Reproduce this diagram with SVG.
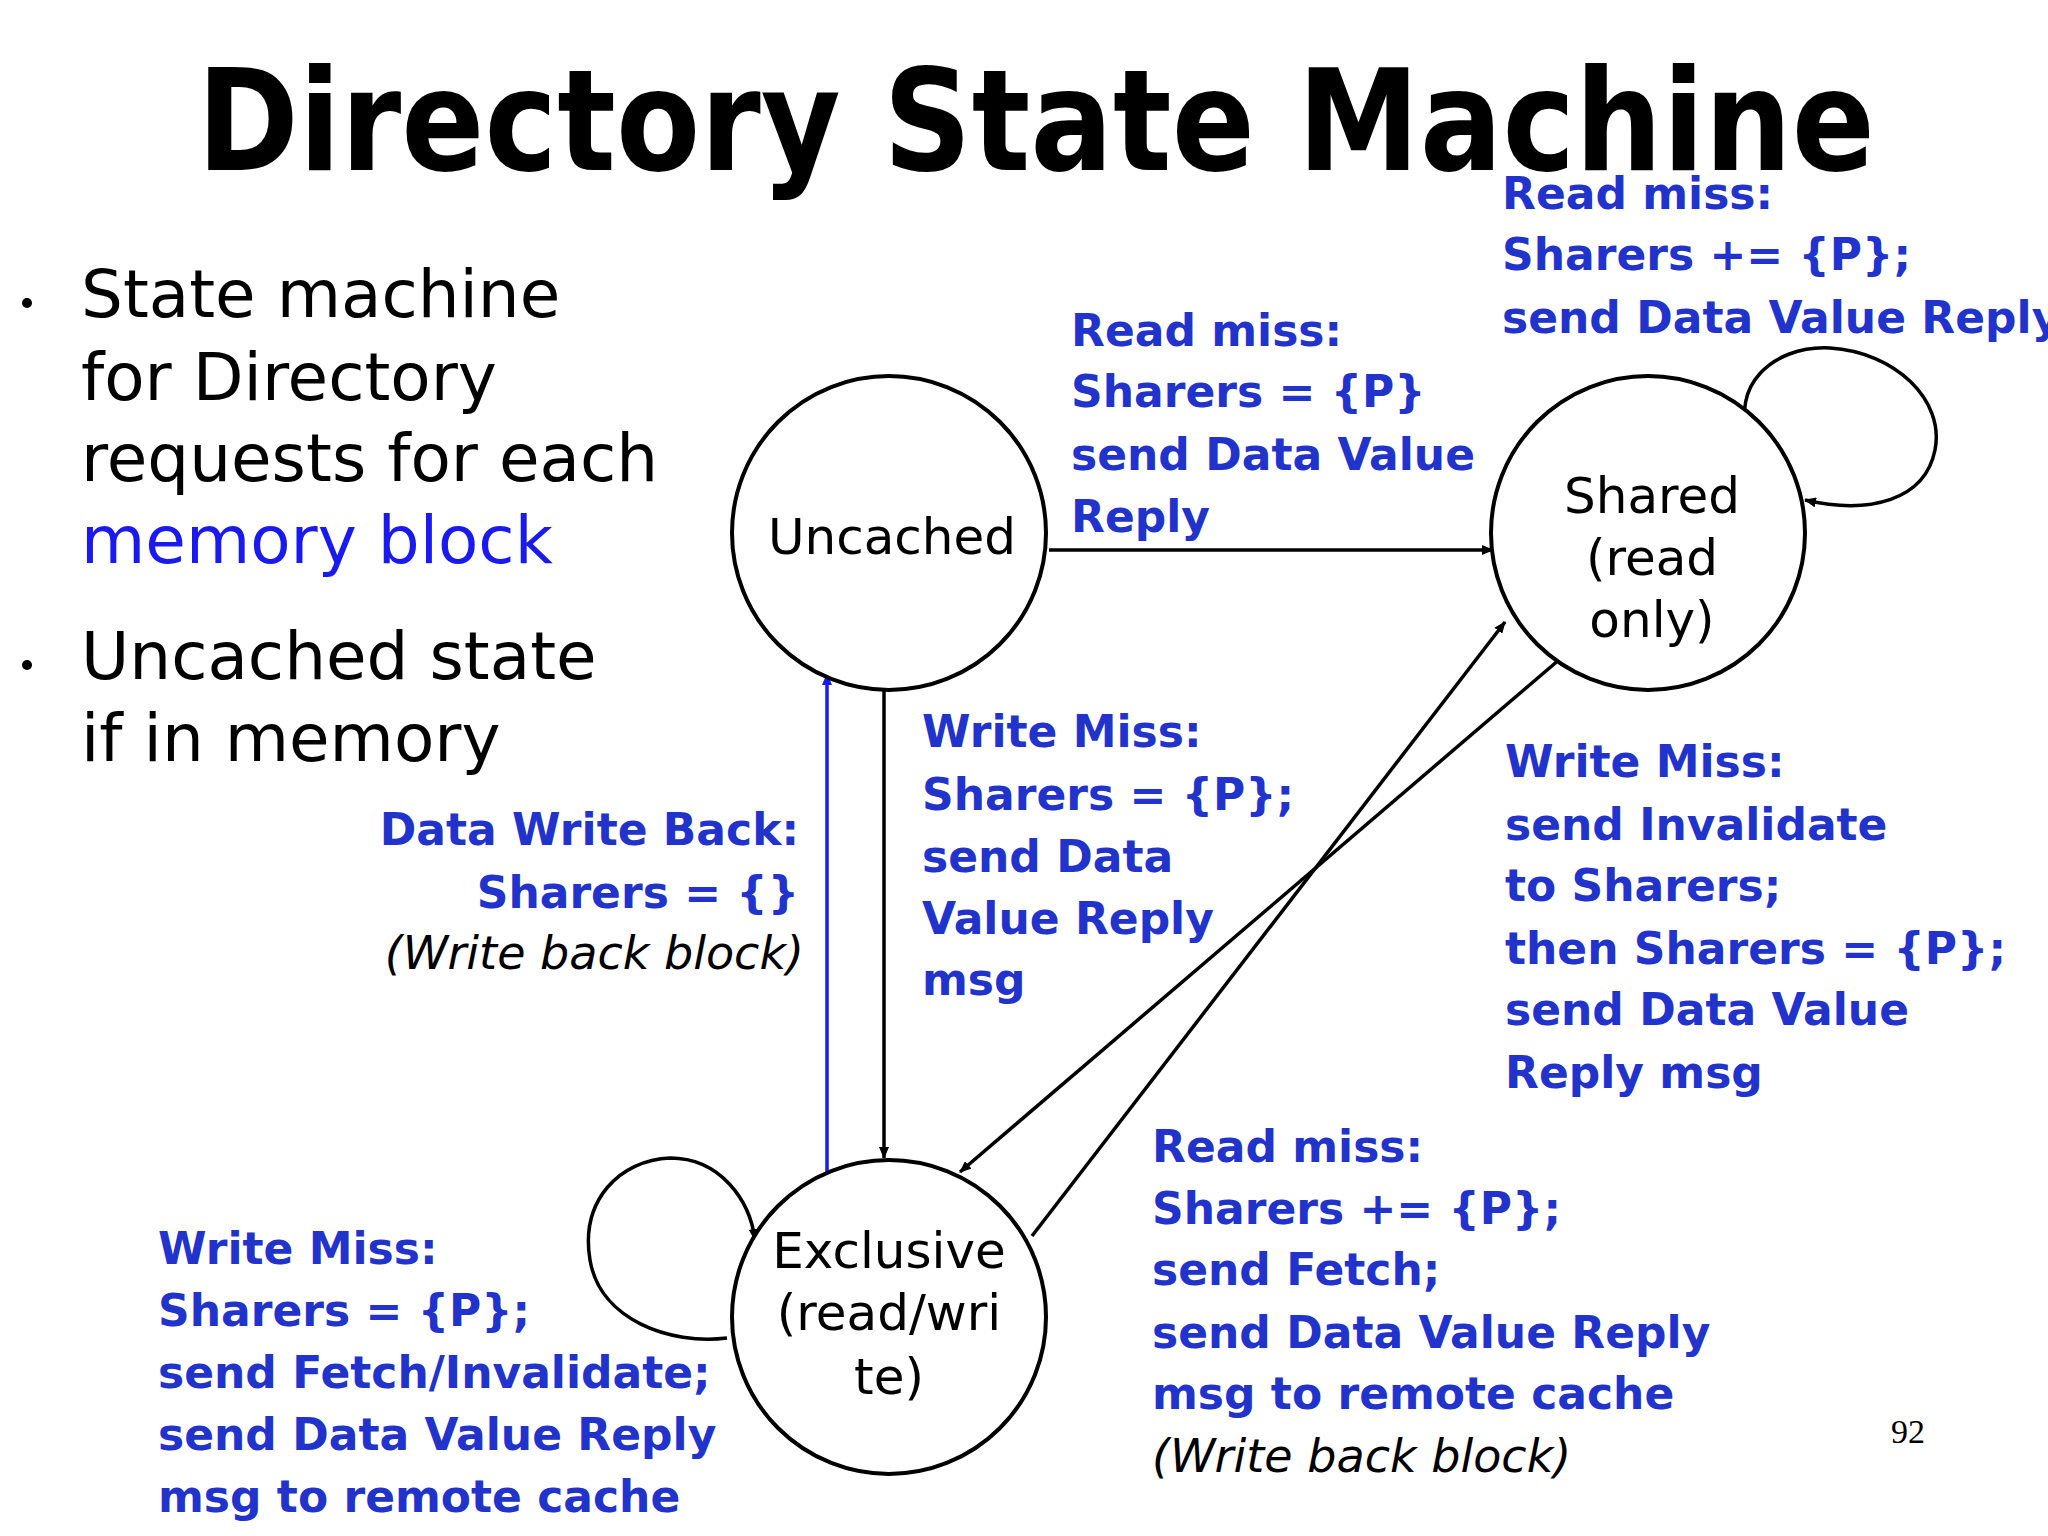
<svg xmlns="http://www.w3.org/2000/svg" width="2048" height="1536" viewBox="0 0 2048 1536">
<style>
.t{font-family:"DejaVu Sans","Noto Sans",sans-serif}
.b{font-family:"DejaVu Sans",sans-serif;font-weight:bold;font-size:44px;fill:#2233cc}
.i{font-family:"DejaVu Sans",sans-serif;font-style:italic;font-size:46px;fill:#000}
.n{font-family:"DejaVu Sans",sans-serif;font-size:50px;fill:#000;text-anchor:middle}
.c{fill:#fff;stroke:#000;stroke-width:4}
.k{stroke:#000;stroke-width:3.5;fill:none;marker-end:url(#ak)}
</style>
<defs>
<marker id="ak" markerWidth="12" markerHeight="10" refX="11" refY="5" orient="auto" markerUnits="userSpaceOnUse"><path d="M0,0 L12,5 L0,10 Z" fill="#000"/></marker>
<marker id="ab" markerWidth="12" markerHeight="10" refX="11" refY="5" orient="auto" markerUnits="userSpaceOnUse"><path d="M0,0 L12,5 L0,10 Z" fill="#1a1aee"/></marker>
</defs>
<rect width="2048" height="1536" fill="#fff"/>
<text x="1036" y="170" class="t" font-size="140" font-weight="bold" text-anchor="middle" textLength="1678" lengthAdjust="spacingAndGlyphs">Directory State Machine</text>
<g class="t" font-size="66">
<circle cx="27" cy="303" r="5" fill="#000"/>
<text x="81" y="317">State machine</text>
<text x="81" y="400">for Directory</text>
<text x="81" y="481">requests for each</text>
<text x="81" y="563" fill="#1a1aee">memory block</text>
<circle cx="27" cy="665" r="5" fill="#000"/>
<text x="81" y="679">Uncached state</text>
<text x="81" y="761">if in memory</text>
</g>
<g id="connectors">
<line x1="1049" y1="550" x2="1493" y2="550" class="k"/>
<line x1="884" y1="683" x2="884" y2="1158" class="k"/>
<line x1="827" y1="1172" x2="827" y2="674" stroke="#1a1aee" stroke-width="3.5" marker-end="url(#ab)"/>
<line x1="1567" y1="653" x2="960" y2="1172" class="k"/>
<line x1="1032" y1="1236" x2="1505" y2="622" class="k"/>
<path d="M1750,435 C1730,390 1770,345 1830,348 C1895,352 1945,400 1935,450 C1925,500 1870,515 1805,500" class="k"/>
<path d="M727,1338 C670,1345 600,1320 590,1260 C580,1200 620,1160 670,1158 C720,1158 750,1200 755,1240" class="k"/>
</g>
<g id="uncached"><circle cx="889" cy="533" r="157" class="c"/><text x="892" y="554" class="n">Uncached</text></g>
<g id="shared"><circle cx="1648" cy="533" r="157" class="c"/><text x="1652" y="513" class="n">Shared</text><text x="1652" y="575" class="n">(read</text><text x="1652" y="637" class="n">only)</text></g>
<g id="exclusive"><circle cx="889" cy="1317" r="157" class="c"/><text x="889" y="1268" class="n">Exclusive</text><text x="889" y="1330" class="n">(read/wri</text><text x="889" y="1394" class="n">te)</text></g>
<g id="labels">
<text class="b" x="1502" y="209">Read miss:</text><text class="b" x="1502" y="270">Sharers += {P};</text><text class="b" x="1502" y="333">send Data Value Reply</text>
<text class="b" x="1071" y="346">Read miss:</text><text class="b" x="1071" y="407">Sharers = {P}</text><text class="b" x="1071" y="470">send Data Value</text><text class="b" x="1071" y="532">Reply</text>
<text class="b" x="922" y="747">Write Miss:</text><text class="b" x="922" y="810">Sharers = {P};</text><text class="b" x="922" y="872">send Data</text><text class="b" x="922" y="934">Value Reply</text><text class="b" x="922" y="995">msg</text>
<text class="b" x="799" y="845" text-anchor="end">Data Write Back:</text><text class="b" x="799" y="908" text-anchor="end">Sharers = {}</text><text class="i" x="804" y="969" text-anchor="end">(Write back block)</text>
<text class="b" x="1505" y="777">Write Miss:</text><text class="b" x="1505" y="840">send Invalidate</text><text class="b" x="1505" y="901">to Sharers;</text><text class="b" x="1505" y="964">then Sharers = {P};</text><text class="b" x="1505" y="1025">send Data Value</text><text class="b" x="1505" y="1088">Reply msg</text>
<text class="b" x="1152" y="1162">Read miss:</text><text class="b" x="1152" y="1224">Sharers += {P};</text><text class="b" x="1152" y="1285">send Fetch;</text><text class="b" x="1152" y="1348">send Data Value Reply</text><text class="b" x="1152" y="1409">msg to remote cache</text><text class="i" x="1152" y="1472">(Write back block)</text>
<text class="b" x="158" y="1264">Write Miss:</text><text class="b" x="158" y="1326">Sharers = {P};</text><text class="b" x="158" y="1388">send Fetch/Invalidate;</text><text class="b" x="158" y="1450">send Data Value Reply</text><text class="b" x="158" y="1512">msg to remote cache</text>
</g>
<text x="1908" y="1443" font-family="Liberation Serif,serif" font-size="34" text-anchor="middle">92</text>
</svg>
